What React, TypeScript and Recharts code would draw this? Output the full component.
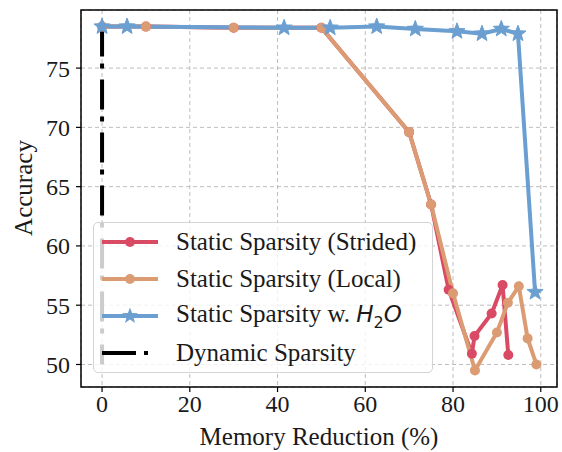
import { LineChart, Line, XAxis, YAxis, CartesianGrid, ReferenceArea, Legend } from 'recharts';

// Static Sparsity (Strided)
const stridedX = [0, 10, 30, 50, 70, 75, 79, 84.3, 84.9, 88.8, 91.3, 92.6];
const stridedY = [78.5, 78.5, 78.4, 78.4, 69.6, 63.5, 56.3, 50.9, 52.4, 54.3, 56.7, 50.8];

// Static Sparsity (Local)
const localX = [0, 10, 30, 50, 70, 75, 80, 85, 90, 92.5, 95, 97, 99];
const localY = [78.5, 78.5, 78.4, 78.4, 69.6, 63.5, 56.0, 49.5, 52.7, 55.2, 56.6, 52.2, 50.0];

// Static Sparsity w. H2O
const h2oX = [0, 5.7, 41.5, 52, 62.6, 71.4, 80.9, 86.6, 91, 94.8, 98.7];
const h2oY = [78.5, 78.5, 78.4, 78.4, 78.5, 78.3, 78.1, 77.9, 78.3, 77.9, 56.1];

// Dynamic Sparsity
const dynX = [0, 0];
const dynY = [78.5, 50.0];

const xTicks = [0, 20, 40, 60, 80, 100];
const yTicks = [50, 55, 60, 65, 70, 75];

const RED = '#D94A64';
const ORANGE = '#DB9C74';
const BLUE = '#6B9FD1';

const toPts = (xs: number[], ys: number[]) => xs.map((x, i) => ({ x, y: ys[i] }));

const starPath = (cx: number, cy: number, r: number) => {
  const pts: string[] = [];
  for (let i = 0; i < 10; i++) {
    const rad = i % 2 === 0 ? r : r * 0.42;
    const a = -Math.PI / 2 + (i * Math.PI) / 5;
    pts.push(`${cx + rad * Math.cos(a)},${cy + rad * Math.sin(a)}`);
  }
  return pts.join(' ');
};

const Star = (props: any) => {
  const { cx, cy, index } = props;
  if (cx == null || cy == null) return null;
  return <polygon key={index} points={starPath(cx, cy, 8.5)} fill={BLUE} stroke={BLUE} strokeWidth={1} />;
};

const serif = '"Liberation Serif", "DejaVu Serif", serif';

const LegendBox = () => {
  const row = (handle: JSX.Element, label: JSX.Element | string) => (
    <div style={{ display: 'flex', alignItems: 'center', height: 36.7 }}>
      <svg width={60} height={20} style={{ marginLeft: 6, marginRight: 16 }}>{handle}</svg>
      <span style={{ whiteSpace: 'nowrap' }}>{label}</span>
    </div>
  );
  return (
    <div
      style={{
        background: 'rgba(255,255,255,0.8)',
        border: '1px solid #d4d4d4',
        borderRadius: 5,
        width: 340,
        height: 151,
        boxSizing: 'border-box',
        fontFamily: serif,
        fontSize: 25,
        color: '#1a1a1a',
        display: 'flex',
        flexDirection: 'column',
        justifyContent: 'center',
      }}
    >
      {row(
        <g>
          <line x1={2} y1={10} x2={58} y2={10} stroke={RED} strokeWidth={4} />
          <circle cx={30} cy={10} r={5} fill={RED} />
        </g>,
        'Static Sparsity (Strided)'
      )}
      {row(
        <g>
          <line x1={2} y1={10} x2={58} y2={10} stroke={ORANGE} strokeWidth={4} />
          <circle cx={30} cy={10} r={5} fill={ORANGE} />
        </g>,
        'Static Sparsity (Local)'
      )}
      {row(
        <g>
          <line x1={2} y1={10} x2={58} y2={10} stroke={BLUE} strokeWidth={4} />
          <polygon points={starPath(30, 10, 8.5)} fill={BLUE} />
        </g>,
        <span>
          Static Sparsity w.{' '}
          <span style={{ fontFamily: '"DejaVu Sans", sans-serif', fontStyle: 'italic', fontSize: 23 }}>
            H<sub style={{ fontSize: 16, fontStyle: 'normal' }}>2</sub>O
          </span>
        </span>
      )}
      {row(
        <line x1={2} y1={10} x2={58} y2={10} stroke="#000" strokeWidth={4} strokeDasharray="34 8 4 20" />,
        'Dynamic Sparsity'
      )}
    </div>
  );
};

export default function App() {
  return (
    <div style={{ position: 'absolute', left: 0, top: 0, background: '#fff' }}>
      <LineChart width={562} height={452} margin={{ top: 10, right: 5, bottom: 0, left: 0 }}>
        <CartesianGrid stroke="#b5b5b5" strokeDasharray="4 3" strokeWidth={0.9} />
        <XAxis
          type="number"
          dataKey="x"
          domain={[-4.8, 103.7]}
          ticks={xTicks}
          allowDataOverflow
          height={65}
          axisLine={false}
          tickSize={5}
          tickMargin={3}
          tickLine={{ stroke: '#000', strokeWidth: 1.2 }}
          tick={{ fontFamily: serif, fontSize: 24, fill: '#1a1a1a' }}
          label={{ value: 'Memory Reduction (%)', position: 'insideBottom', offset: 7, style: { fontFamily: serif, fontSize: 25, fill: '#1a1a1a' } }}
        />
        <YAxis
          type="number"
          dataKey="y"
          domain={[48.1, 79.9]}
          ticks={yTicks}
          allowDataOverflow
          width={81}
          axisLine={false}
          tickSize={5}
          tickMargin={6}
          tickLine={{ stroke: '#000', strokeWidth: 1.2 }}
          tick={{ fontFamily: serif, fontSize: 24, fill: '#1a1a1a' }}
          label={() => (
            <text x={23} y={188} transform="rotate(-90, 23, 188)" textAnchor="middle" dominantBaseline="central" fontFamily={serif} fontSize={25} fill="#1a1a1a">
              Accuracy
            </text>
          )}
        />
        <Line data={toPts(stridedX, stridedY)} dataKey="y" stroke={RED} strokeWidth={4} dot={{ r: 5, fill: RED, stroke: RED, strokeWidth: 0 }} isAnimationActive={false} legendType="none" />
        <Line data={toPts(localX, localY)} dataKey="y" stroke={ORANGE} strokeWidth={4} dot={{ r: 5, fill: ORANGE, stroke: ORANGE, strokeWidth: 0 }} isAnimationActive={false} legendType="none" />
        <Line data={toPts(h2oX, h2oY)} dataKey="y" stroke={BLUE} strokeWidth={4} dot={<Star />} isAnimationActive={false} legendType="none" />
        <Line data={toPts(dynX, dynY)} dataKey="y" stroke="#000" strokeWidth={4} strokeDasharray="30 7 5 11" dot={false} isAnimationActive={false} legendType="none" />
        <ReferenceArea x1={-4.8} x2={103.7} y1={48.1} y2={79.9} fill="none" stroke="#000" strokeWidth={1.5} fillOpacity={0} ifOverflow="visible" />
        <Legend
          layout="vertical"
          align="center"
          verticalAlign="middle"
          content={() => <LegendBox />}
          wrapperStyle={{ left: 93, top: 222, width: 340, height: 151 }}
        />
      </LineChart>
    </div>
  );
}
